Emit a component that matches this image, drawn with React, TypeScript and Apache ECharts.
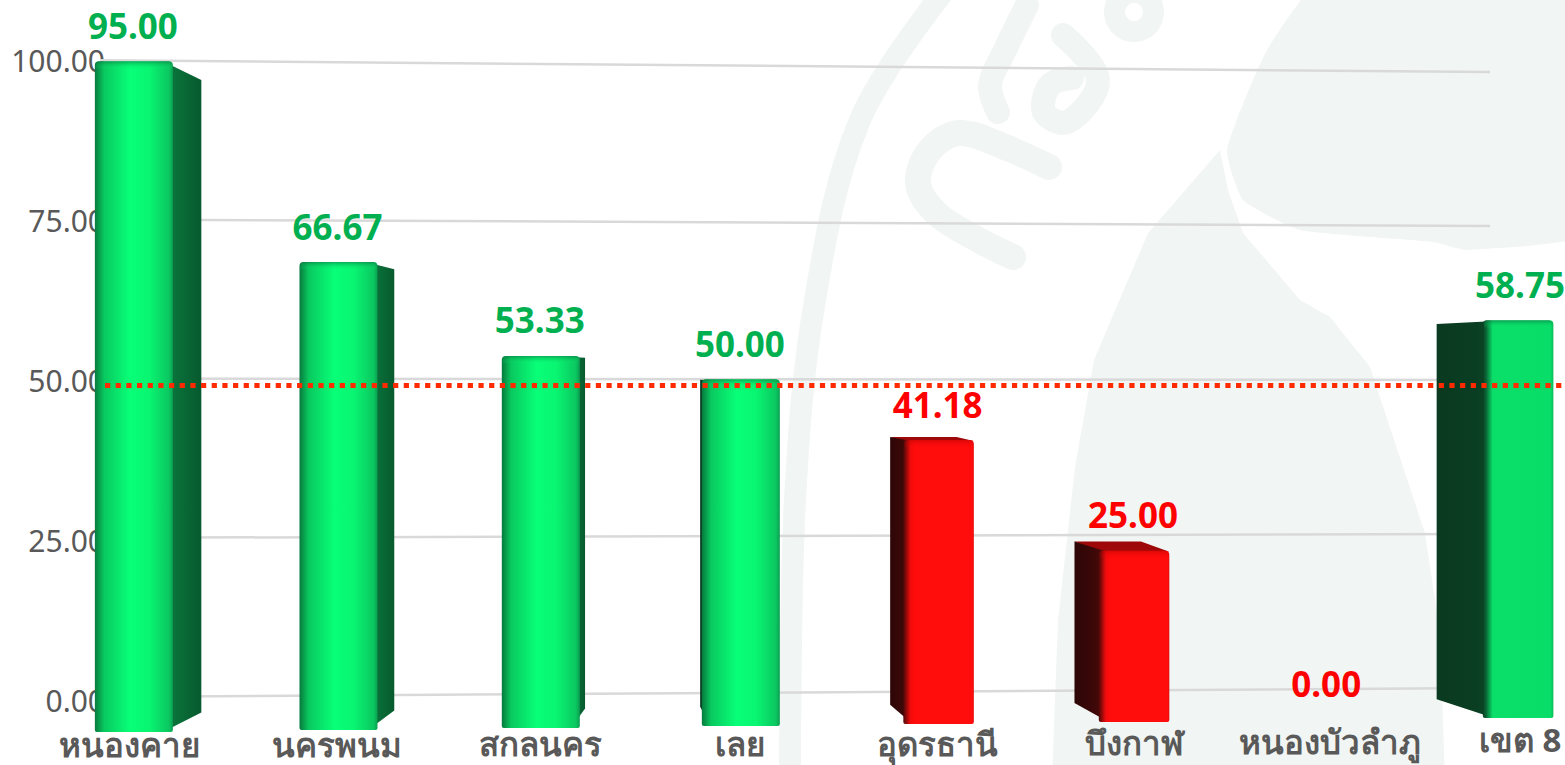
import React, { useEffect, useRef } from "react";
import * as echarts from "echarts";

const categories = ["หนองคาย", "นครพนม", "สกลนคร", "เลย", "อุดรธานี", "บึงกาฬ", "หนองบัวลำภู", "เขต 8"];
const values = [95.0, 66.67, 53.33, 50.0, 41.18, 25.0, 0.0, 58.75];
const yTicks = [0, 25, 50, 75, 100];
const referenceValue = 49.2;
const targetValue = 50;

const GREEN = "#00b050";
const RED = "#ff0000";
const GREY = "#595959";
const WM = "#f1f5f3";
const FONT = "'Noto Sans', 'DejaVu Sans', sans-serif";

// Perspective model of the 3-D column plot (vanishing point & depth)
const VX = 672;
const VY = 388;
const K = 0.057;
const back = (p: number[]) => [p[0] + (VX - p[0]) * K, p[1] + (VY - p[1]) * K];

function App() {
  const ref = useRef<HTMLDivElement>(null);
  useEffect(() => {
    document.body.style.margin = "0";
    const chart = echarts.init(ref.current!, null, { renderer: "svg" });
    const LG = (stops: [number, string][], vertical = false) =>
      new echarts.graphic.LinearGradient(0, 0, vertical ? 0 : 1, vertical ? 1 : 0,
        stops.map(([offset, color]) => ({ offset, color })));

    const wm = (type: string, shape: any, style: any) => ({ type, shape, style, z: -10, silent: true });
    const stroke = (points: number[][], w: number, smooth = 0.35) =>
      wm("polyline", { points, smooth }, { stroke: WM, lineWidth: w, fill: "none", lineCap: "round" });

    const gridline = (params: any, api: any) => {
      const v = api.value(1);
      const base = api.coord([0, 0])[1];
      const unit = (base - api.coord([0, 100])[1]) / 100;
      const x1 = 100;
      const x2 = 1490;
      return {
        type: "line",
        shape: { x1, y1: base - 3 - v * unit * 0.995, x2, y2: base - 12 - v * unit * 0.9625 },
        style: { stroke: "#d9d9d9", lineWidth: 2.5 },
      };
    };

    const renderBar = (params: any, api: any) => {
      const i = api.value(0);
      const v = api.value(1);
      const c = api.coord([i, v]);
      const base = api.coord([i, 0]);
      const unit = base[1] - api.coord([i, 1])[1];
      const t = (c[0] - 134) / 1384;
      const cx = c[0] + 56 * t * (1 - t);
      const bottom = 732 - 14 * t;
      const scale = (7.06 - 0.29 * t) / unit;
      const top = bottom - v * unit * scale;
      const w = cx > 800 ? 70.5 : 78;
      const x1 = cx - w / 2;
      const x2 = cx + w / 2;
      const red = v < targetValue;
      const labelColor = red ? RED : GREEN;
      const children: any[] = [];

      if (v > 0) {
        const leftSide = cx > VX;
        const farRight = cx > 1300;
        const edge = leftSide ? x1 : x2;
        const inner = leftSide ? x1 + 8 : x2 - 8;
        const bt = back([edge, top]);
        const bb = back([edge, bottom]);
        const otherTop = back([leftSide ? x2 : x1, top]);
        if (top > VY) {
          children.push({
            type: "polygon",
            shape: { points: [[x1, top + 1], [x2, top + 1], otherTop, bt] },
            style: { fill: red ? "#9e0808" : "#0a8a45" },
          });
        }
        const sideFill = red
          ? LG([[0, "#2e0606"], [0.6, "#3c0808"], [1, "#5a0a0a"]])
          : leftSide
            ? LG([[0, "#0a3a20"], [0.75, "#0a3e22"], [1, "#0b4a28"]])
            : LG([[0, "#0a7a3e"], [1, "#075a2e"]]);
        children.push({
          type: "polygon",
          shape: { points: [[inner, top + 1], bt, bb, [inner, bottom - 1]] },
          style: { fill: sideFill },
        });
        const frontFill = red
          ? LG([[0, "#4a0808"], [0.1, "#f00c0c"], [0.16, "#ff0c0c"], [0.98, "#ff0c0c"], [1, "#d80a0a"]])
          : farRight
            ? LG([[0, "#0a3e22"], [0.05, "#0a6a38"], [0.14, "#0adf6a"], [0.96, "#08dd68"], [1, "#0ab858"]])
            : LG([[0, "#067a3e"], [0.12, "#09c95f"], [0.45, "#08ff78"], [0.7, "#09f572"], [0.95, "#0bc760"], [1, "#0a9e50"]]);
        children.push({
          type: "rect",
          shape: { x: x1, y: top, width: w, height: bottom - top, r: [4, 4, 2, 2] },
          style: { fill: frontFill },
        });
        children.push({
          type: "rect",
          shape: { x: x1 + 1, y: top, width: w - 2, height: 8, r: [4, 4, 0, 0] },
          style: {
            fill: LG(red ? [[0, "rgba(150,0,0,0.35)"], [1, "rgba(255,0,0,0)"]] : [[0, "rgba(10,110,60,0.55)"], [1, "rgba(10,255,120,0)"]], true),
          },
        });
      }
      children.push({
        type: "text",
        style: {
          text: v.toFixed(2),
          x: cx >= 1500 ? 1565 : cx - 1,
          y: top - 36,
          align: cx >= 1500 ? "right" : "center",
          verticalAlign: "middle",
          fontFamily: FONT,
          fontSize: 35,
          fontWeight: "bold",
          fill: labelColor,
        },
      });
      return { type: "group", children };
    };

    const labelPad = [[11, 8, 0, 0], [10, 0, 0, 10], [9, 0, 0, 22], [8, 0, 0, 26], [8, 0, 0, 26], [6, 0, 0, 24], [4, 0, 0, 20], [1, 0, 0, 4]];
    const rich: any = {};
    labelPad.forEach((padding, i) => {
      rich["c" + i] = { padding, fontFamily: FONT, fontSize: 33, lineHeight: 26, fontWeight: "bold", color: GREY };
    });

    chart.setOption({
      animation: false,
      backgroundColor: "#ffffff",
      textStyle: { fontFamily: FONT },
      graphic: {
        elements: [
          wm("polygon", { smooth: 0.15, points: [[1330, -30], [1267, 50], [1227, 150], [1243, 200], [1300, 230], [1433, 242], [1467, 250], [1600, 230], [1600, -30]] }, { fill: WM }),
          wm("polygon", { points: [[1220, 150], [1148, 233], [1094, 360], [1075, 467], [1058, 620], [1052, 780], [1445, 780], [1440, 633], [1425, 533], [1370, 367], [1330, 317], [1300, 300], [1243, 233], [1228, 190]] }, { fill: WM }),
          stroke([[1049, 167], [1000, 145], [959, 133], [930, 150], [918, 183], [936, 213], [975, 238], [1013, 257]], 26),
          stroke([[945, -10], [860, 120], [815, 300], [795, 500], [790, 780]], 22),
          stroke([[1027, 5], [1005, 50], [990, 85], [998, 112]], 24),
          stroke([[1063, 35], [1098, 80], [1068, 122], [1044, 112], [1050, 85], [1072, 78]], 24),
          wm("ring", { cx: 1134, cy: 12, r: 30, r0: 9 }, { fill: WM }),
        ],
      },
      grid: { left: 35, width: 1582, top: 60, height: 640, containLabel: false, outerBoundsMode: "none" },
      xAxis: {
        type: "category",
        data: categories,
        axisLine: { show: false },
        axisTick: { show: false },
        axisLabel: {
          interval: 0,
          margin: 26,
          hideOverlap: false,
          formatter: (value: string, index: number) => `{c${index}|${value}}`,
          rich,
        },
      },
      yAxis: {
        type: "value",
        min: 0,
        max: 100,
        interval: 25,
        splitLine: { show: false },
        axisLine: { show: false },
        axisTick: { show: false },
        axisLabel: {
          margin: -70,
          fontFamily: FONT,
          fontSize: 30,
          color: GREY,
          formatter: (value: number) => value.toFixed(2),
        },
      },
      series: [
        {
          type: "custom",
          name: "grid",
          z: 1,
          silent: true,
          renderItem: gridline,
          encode: { x: 0, y: 1 },
          data: yTicks.map((v) => [0, v]),
        },
        {
          type: "custom",
          name: "ร้อยละ",
          z: 3,
          silent: true,
          renderItem: renderBar,
          encode: { x: 0, y: 1 },
          data: values.map((v, i) => [i, v]),
          markLine: {
            silent: true,
            symbol: "none",
            z: 10,
            label: { show: false },
            lineStyle: { color: "#ff2a00", width: 5, type: [5.2, 5.47], opacity: 1 },
            data: [[{ x: 105, yAxis: referenceValue }, { x: 1565, yAxis: referenceValue }]],
          },
        },
      ],
    });
    return () => chart.dispose();
  }, []);
  return <div ref={ref} style={{ position: "absolute", left: 0, top: 0, width: 1565, height: 765, overflow: "hidden" }} />;
}

export default App;
